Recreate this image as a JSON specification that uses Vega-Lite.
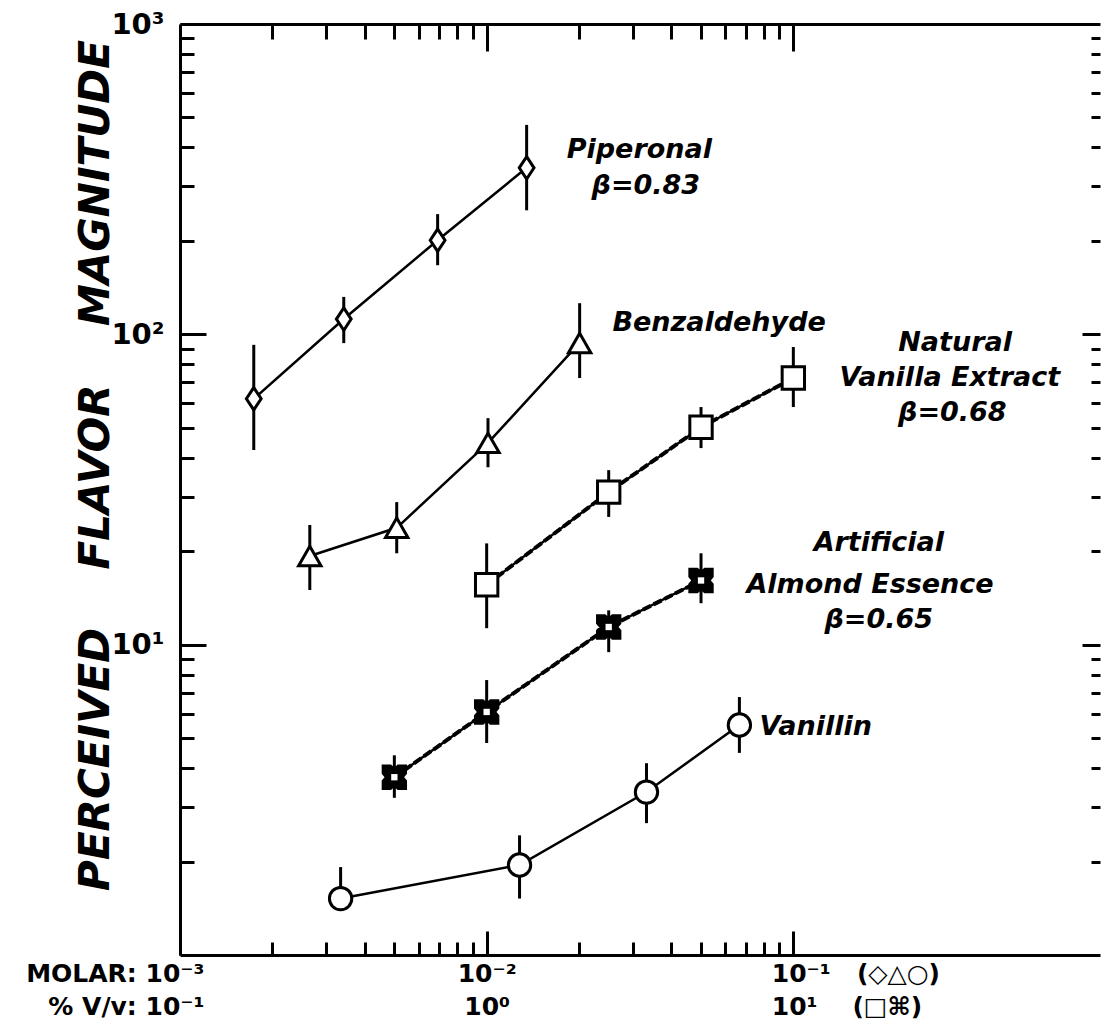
{
  "$schema": "https://vega.github.io/schema/vega-lite/v6.json",
  "width": 920,
  "height": 931,
  "autosize": "none",
  "padding": {"left": 180, "top": 24, "right": 2, "bottom": 79},
  "background": "white",
  "config": {
    "view": {"stroke": null},
    "axis": {"domainColor": "black", "domainWidth": 3, "tickColor": "black", "tickWidth": 3, "labelColor": "black", "titleColor": "black", "grid": false, "labelFont": "DejaVu Sans", "labelOverlap": false, "labelFlush": false}
  },
  "datasets": {
    "points": [
      {"series": "Piperonal", "conc": 0.00174, "mag": 62, "lo": 42.4, "hi": 92.5},
      {"series": "Piperonal", "conc": 0.00342, "mag": 112, "lo": 93.7, "hi": 132},
      {"series": "Piperonal", "conc": 0.00692, "mag": 201, "lo": 167, "hi": 244},
      {"series": "Piperonal", "conc": 0.0135, "mag": 344, "lo": 251, "hi": 473},
      {"series": "Benzaldehyde", "conc": 0.00265, "mag": 19.3, "lo": 15.0, "hi": 24.3},
      {"series": "Benzaldehyde", "conc": 0.00509, "mag": 23.8, "lo": 19.7, "hi": 28.8},
      {"series": "Benzaldehyde", "conc": 0.0101, "mag": 44.7, "lo": 37.3, "hi": 53.7},
      {"series": "Benzaldehyde", "conc": 0.0201, "mag": 93.8, "lo": 72.3, "hi": 126},
      {"series": "Natural Vanilla Extract", "conc": 0.01, "mag": 15.6, "lo": 11.3, "hi": 21.2},
      {"series": "Natural Vanilla Extract", "conc": 0.025, "mag": 31.0, "lo": 25.8, "hi": 36.5},
      {"series": "Natural Vanilla Extract", "conc": 0.05, "mag": 50.2, "lo": 43.0, "hi": 58.3},
      {"series": "Natural Vanilla Extract", "conc": 0.1, "mag": 72.3, "lo": 58.3, "hi": 91.0},
      {"series": "Artificial Almond Essence", "conc": 0.005, "mag": 3.74, "lo": 3.21, "hi": 4.40},
      {"series": "Artificial Almond Essence", "conc": 0.01, "mag": 6.07, "lo": 4.82, "hi": 7.69},
      {"series": "Artificial Almond Essence", "conc": 0.025, "mag": 11.4, "lo": 9.46, "hi": 12.9},
      {"series": "Artificial Almond Essence", "conc": 0.05, "mag": 16.1, "lo": 13.6, "hi": 19.7},
      {"series": "Vanillin", "conc": 0.00334, "mag": 1.52, "lo": 1.41, "hi": 1.92},
      {"series": "Vanillin", "conc": 0.0128, "mag": 1.95, "lo": 1.52, "hi": 2.43},
      {"series": "Vanillin", "conc": 0.0332, "mag": 3.35, "lo": 2.66, "hi": 4.15},
      {"series": "Vanillin", "conc": 0.0667, "mag": 5.51, "lo": 4.48, "hi": 6.78}
    ],
    "labels": [
      {"text": "Piperonal", "anchor": "left", "conc": 0.01824, "mag": 393},
      {"text": "β=0.83", "anchor": "left", "conc": 0.02198, "mag": 300},
      {"text": "Benzaldehyde", "anchor": "left", "conc": 0.0257, "mag": 108.7},
      {"text": "Natural", "anchor": "center", "conc": 0.337, "mag": 93.7},
      {"text": "Vanilla Extract", "anchor": "left", "conc": 0.1413, "mag": 72.3},
      {"text": "β=0.68", "anchor": "center", "conc": 0.33, "mag": 55.7},
      {"text": "Artificial", "anchor": "center", "conc": 0.19, "mag": 21.2},
      {"text": "Almond Essence", "anchor": "left", "conc": 0.0703, "mag": 15.6},
      {"text": "β=0.65", "anchor": "center", "conc": 0.19, "mag": 12.0},
      {"text": "Vanillin", "anchor": "left", "conc": 0.0775, "mag": 5.42}
    ]
  },
  "resolve": {"axis": {"x": "independent", "y": "independent"}},
  "layer": [
    {
      "data": {"name": "points"},
      "mark": {"type": "line", "color": "black", "strokeWidth": 2.5},
      "encoding": {
        "x": {"field": "conc", "type": "quantitative", "scale": {"type": "log", "domain": [0.001, 1], "nice": false},
          "axis": {"orient": "bottom", "title": null, "values": [0.001, 0.01, 0.1], "tickSize": -24, "labelPadding": 30, "labelFontSize": 25, "labelFontWeight": "bold", "labelLineHeight": 33, "labelBaseline": "top",
            "labelExpr": "datum.value < 0.005 ? ['MOLAR:\u00a010\u207b\u00b3', '%\u00a0V/v:\u00a010\u207b\u00b9'] : datum.value < 0.05 ? ['10\u207b\u00b2', '10\u2070'] : ['10\u207b\u00b9\u00a0\u00a0\u00a0(\u25c7\u25b3\u25cb)', '10\u00b9\u00a0\u00a0\u00a0\u00a0(\u25a1\u2318)']",
            "labelAlign": {"condition": [{"test": "datum.value < 0.005", "value": "right"}, {"test": "datum.value > 0.05", "value": "left"}], "value": "center"},
            "labelOffset": {"condition": [{"test": "datum.value < 0.005", "value": 24}, {"test": "datum.value > 0.05", "value": -22}], "value": 0}
          }},
        "y": {"field": "mag", "type": "quantitative", "scale": {"type": "log", "domain": [1, 1000], "nice": false},
          "axis": {"orient": "left", "values": [10, 100, 1000], "tickSize": -26, "labelPadding": 42, "labelFontSize": 29, "labelFontWeight": "bold",
            "labelExpr": "datum.value == 1000 ? '10\u00b3' : datum.value == 100 ? '10\u00b2' : '10\u00b9'",
            "title": "PERCEIVED\u00a0\u00a0\u00a0\u00a0FLAVOR\u00a0\u00a0\u00a0\u00a0MAGNITUDE", "titleFont": "DejaVu Sans", "titleFontSize": 42, "titleFontStyle": "italic", "titleFontWeight": "bold", "titleX": -85, "titleY": 441, "titleAngle": 270, "titleAlign": "center", "titleBaseline": "middle"}},
        "detail": {"field": "series"},
        "order": {"field": "conc"}
      }
    },
    {
      "data": {"name": "points"},
      "transform": [{"filter": "datum.series == 'Natural Vanilla Extract' || datum.series == 'Artificial Almond Essence'"}],
      "mark": {"type": "line", "color": "black", "strokeWidth": 4, "strokeDash": [9, 3]},
      "encoding": {
        "x": {"field": "conc", "type": "quantitative", "scale": {"type": "log", "domain": [0.001, 1], "nice": false}, "axis": null},
        "y": {"field": "mag", "type": "quantitative", "scale": {"type": "log", "domain": [1, 1000], "nice": false}, "axis": null},
        "detail": {"field": "series"},
        "order": {"field": "conc"}
      }
    },
    {
      "data": {"name": "points"},
      "mark": {"type": "rule", "color": "black", "strokeWidth": 3},
      "encoding": {
        "x": {"field": "conc", "type": "quantitative", "scale": {"type": "log", "domain": [0.001, 1], "nice": false},
          "axis": {"orient": "bottom", "title": null, "domain": false, "labels": false, "tickSize": -13, "values": [0.002, 0.003, 0.004, 0.005, 0.006, 0.007, 0.008, 0.009, 0.02, 0.03, 0.04, 0.05, 0.06, 0.07, 0.08, 0.09]}},
        "y": {"field": "lo", "type": "quantitative", "scale": {"type": "log", "domain": [1, 1000], "nice": false},
          "axis": {"orient": "left", "title": null, "domain": false, "labels": false, "tickSize": -14, "values": [2, 3, 4, 5, 6, 7, 8, 9, 20, 30, 40, 50, 60, 70, 80, 90, 200, 300, 400, 500, 600, 700, 800, 900]}},
        "y2": {"field": "hi"}
      }
    },
    {
      "data": {"name": "points"},
      "mark": {"type": "point", "filled": true, "stroke": "black", "strokeWidth": 3, "size": 500, "opacity": 1},
      "encoding": {
        "x": {"field": "conc", "type": "quantitative", "scale": {"type": "log", "domain": [0.001, 1], "nice": false},
          "axis": {"orient": "top", "title": null, "labels": false, "tickSize": -27, "values": [0.01, 0.1]}},
        "y": {"field": "mag", "type": "quantitative", "scale": {"type": "log", "domain": [1, 1000], "nice": false},
          "axis": {"orient": "right", "title": null, "labels": false, "domain": false, "tickSize": -18, "values": [10, 100]}},
        "shape": {"field": "series", "legend": null, "scale": {
          "domain": ["Piperonal", "Benzaldehyde", "Natural Vanilla Extract", "Artificial Almond Essence", "Vanillin"],
          "range": ["M0,-1L0.66,0L0,1L-0.66,0Z", "triangle-up", "square", "M-1,-1L-0.35,-1L0,-0.7L0.35,-1L1,-1L1,-0.35L0.7,0L1,0.35L1,1L0.35,1L0,0.7L-0.35,1L-1,1L-1,0.35L-0.7,0L-1,-0.35Z", "circle"]}},
        "fill": {"field": "series", "legend": null, "scale": {
          "domain": ["Piperonal", "Benzaldehyde", "Natural Vanilla Extract", "Artificial Almond Essence", "Vanillin"],
          "range": ["white", "white", "white", "black", "white"]}}
      }
    },
    {
      "data": {"name": "points"},
      "transform": [{"filter": "datum.series == 'Artificial Almond Essence'"}],
      "mark": {"type": "point", "shape": "square", "filled": true, "color": "white", "size": 40, "opacity": 1},
      "encoding": {
        "x": {"field": "conc", "type": "quantitative", "scale": {"type": "log", "domain": [0.001, 1], "nice": false},
          "axis": {"orient": "top", "title": null, "labels": false, "domain": false, "tickSize": -15, "values": [0.002, 0.003, 0.004, 0.005, 0.006, 0.007, 0.008, 0.009, 0.02, 0.03, 0.04, 0.05, 0.06, 0.07, 0.08, 0.09]}},
        "y": {"field": "mag", "type": "quantitative", "scale": {"type": "log", "domain": [1, 1000], "nice": false},
          "axis": {"orient": "right", "title": null, "labels": false, "domain": false, "tickSize": -9, "values": [2, 3, 4, 5, 6, 7, 8, 9, 20, 30, 40, 50, 60, 70, 80, 90, 200, 300, 400, 500, 600, 700, 800, 900]}}
      }
    },
    {
      "data": {"name": "labels"},
      "transform": [{"filter": "datum.anchor == 'left'"}],
      "mark": {"type": "text", "font": "DejaVu Sans", "fontStyle": "italic", "fontWeight": "bold", "fontSize": 27, "align": "left", "baseline": "middle", "color": "black"},
      "encoding": {
        "x": {"field": "conc", "type": "quantitative", "scale": {"type": "log", "domain": [0.001, 1], "nice": false}, "axis": null},
        "y": {"field": "mag", "type": "quantitative", "scale": {"type": "log", "domain": [1, 1000], "nice": false}, "axis": null},
        "text": {"field": "text"}
      }
    },
    {
      "data": {"name": "labels"},
      "transform": [{"filter": "datum.anchor == 'center'"}],
      "mark": {"type": "text", "font": "DejaVu Sans", "fontStyle": "italic", "fontWeight": "bold", "fontSize": 27, "align": "center", "baseline": "middle", "color": "black"},
      "encoding": {
        "x": {"field": "conc", "type": "quantitative", "scale": {"type": "log", "domain": [0.001, 1], "nice": false}, "axis": null},
        "y": {"field": "mag", "type": "quantitative", "scale": {"type": "log", "domain": [1, 1000], "nice": false}, "axis": null},
        "text": {"field": "text"}
      }
    }
  ]
}
